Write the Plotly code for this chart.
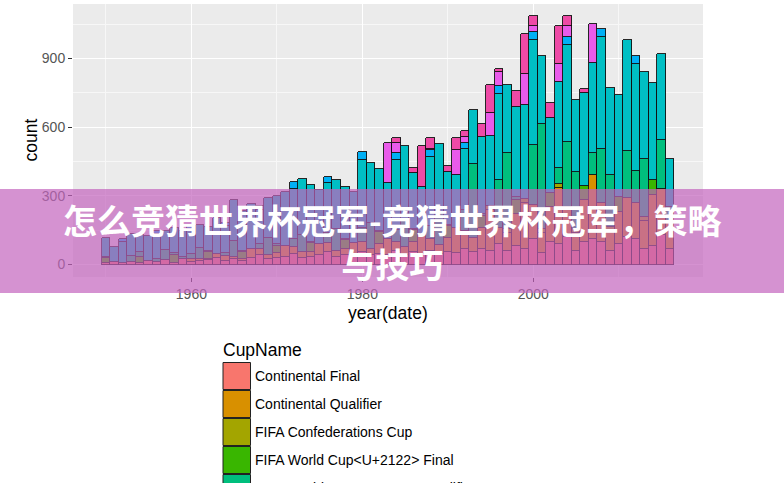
import plotly.graph_objects as go

# ---------------- data ----------------
years = list(range(1950, 2017))

cup_names = [
    "Continental Final",
    "Continental Qualifier",
    "FIFA Confederations Cup",
    "FIFA World Cup&lt;U+2122&gt; Final",
    "FIFA World Cup&lt;U+2122&gt; Qualifier",
    "Friendly",
    "Olympic Football Tournament",
    "Olympic Football Tournament Qualifier",
    "Other A",
    "Other B",
]
cup_colors = ["#F8766D", "#D89000", "#A3A500", "#39B600", "#00BF7D",
              "#00BFC4", "#00B0F6", "#9590FF", "#E95BEA", "#EE4AA6"]

continental_final = [
    8, 10, 6, 10, 6, 16, 12, 22, 8, 24,
    10, 16, 18, 30, 16, 24, 14, 30, 40, 25,
    30, 35, 45, 30, 35, 40, 55, 35, 40, 35,
    55, 40, 45, 40, 60, 40, 55, 45, 60, 45,
    55, 50, 70, 55, 70, 60, 90, 60, 80, 70,
    110, 50, 100, 90, 120, 60, 100, 110, 100, 60,
    90, 120, 110, 70, 80, 130, 70]
continental_qualifier = [
    0, 0, 0, 0, 0, 0, 0, 0, 0, 0,
    14, 10, 6, 18, 22, 8, 10, 40, 30, 15,
    20, 45, 30, 25, 20, 50, 40, 25, 30, 60,
    45, 30, 45, 70, 40, 35, 45, 90, 50, 40,
    60, 110, 70, 60, 90, 180, 70, 80, 140, 200,
    150, 90, 150, 245, 130, 80, 180, 281, 170, 90,
    140, 170, 160, 120, 226, 200, 120]
confederations_cup = [
    0, 0, 0, 0, 0, 0, 0, 0, 0, 0,
    0, 0, 0, 0, 0, 0, 0, 0, 0, 0,
    0, 0, 0, 0, 0, 0, 0, 0, 0, 0,
    0, 0, 0, 0, 0, 0, 0, 0, 0, 0,
    0, 0, 8, 0, 0, 16, 0, 16, 0, 16,
    0, 16, 0, 16, 0, 16, 0, 0, 0, 16,
    0, 0, 0, 16, 0, 0, 0]
world_cup_final = [
    22, 0, 0, 0, 26, 0, 0, 0, 35, 0,
    0, 0, 32, 0, 0, 0, 32, 0, 0, 0,
    32, 0, 0, 0, 38, 0, 0, 0, 38, 0,
    0, 0, 52, 0, 0, 0, 52, 0, 0, 0,
    52, 0, 0, 0, 52, 0, 0, 0, 64, 0,
    0, 0, 64, 0, 0, 0, 64, 0, 0, 0,
    64, 0, 0, 0, 64, 0, 0]
world_cup_qualifier = [
    4, 0, 0, 28, 24, 0, 14, 40, 6, 10,
    22, 48, 4, 0, 12, 70, 4, 0, 20, 75,
    8, 0, 35, 75, 5, 0, 45, 95, 5, 0,
    60, 110, 5, 0, 50, 120, 5, 0, 60, 140,
    5, 0, 90, 324, 10, 0, 210, 330, 10, 0,
    262, 457, 0, 69, 286, 250, 0, 95, 233, 225,
    0, 206, 140, 255, 0, 213, 60]
friendly = [
    82, 67, 94, 94, 74, 108, 109, 83, 110, 114,
    109, 100, 104, 157, 118, 178, 175, 195, 150, 175,
    210, 238, 222, 246, 250, 235, 218, 215, 226, 220,
    299, 262, 269, 248, 309, 324, 244, 203, 298, 301,
    234, 231, 269, 235, 336, 305, 376, 297, 393, 410,
    459, 296, 328, 377, 421, 314, 406, 394, 490, 382,
    448, 485, 467, 379, 424, 377, 211]
olympic_final = [
    0, 0, 12, 0, 0, 0, 10, 0, 0, 0,
    12, 0, 0, 0, 12, 0, 0, 0, 15, 0,
    0, 0, 29, 0, 0, 0, 26, 0, 0, 0,
    34, 0, 0, 0, 29, 0, 0, 0, 32, 0,
    0, 0, 25, 0, 0, 0, 32, 0, 0, 0,
    33, 0, 0, 0, 36, 0, 0, 0, 36, 0,
    0, 0, 32, 0, 0, 0, 0]
olympic_qualifier = [0] * 67
other_a = [
    0, 0, 0, 0, 0, 0, 0, 0, 0, 0,
    0, 0, 0, 0, 0, 0, 0, 0, 0, 0,
    0, 0, 0, 0, 0, 0, 0, 0, 0, 0,
    0, 0, 0, 171, 44, 0, 0, 0, 7, 0,
    0, 109, 26, 0, 0, 103, 63, 0, 0, 137,
    29, 0, 0, 77, 50, 0, 0, 171, 0, 0,
    0, 0, 0, 0, 0, 0, 0]
other_b = [
    0, 0, 0, 0, 0, 0, 0, 0, 0, 0,
    0, 0, 0, 0, 0, 0, 0, 0, 0, 0,
    0, 0, 0, 0, 0, 0, 0, 0, 0, 0,
    0, 0, 0, 0, 19, 0, 19, 181, 46, 0,
    24, 51, 25, 0, 54, 119, 14, 0, 71, 174,
    41, 0, 65, 166, 41, 0, 18, 0, 0, 0,
    0, 0, 0, 0, 0, 0, 0]

series = [continental_final, continental_qualifier, confederations_cup,
          world_cup_final, world_cup_qualifier, friendly, olympic_final,
          olympic_qualifier, other_a, other_b]

y_ticks = [0, 300, 600, 900]
x_ticks = [1960, 1980, 2000]

banner_line1 = "怎么竞猜世界杯冠军-竞猜世界杯冠军，策略"
banner_line2 = "与技巧"

# ---------------- figure ----------------
W, H = 784, 483
PL, PR, PT, PB = 73, 703, 4, 277  # panel box in pixels


def px_x(p):
    return (p - PL) / (PR - PL)


def px_y(p):
    return (PB - p) / (PB - PT)


fig = go.Figure()
for name, color, vals in zip(cup_names, cup_colors, series):
    fig.add_trace(go.Bar(
        x=years,
        y=[v if v else None for v in vals],
        name=name,
        width=1,
        marker=dict(color=color, line=dict(color="#111111", width=0.9)),
        showlegend=False,
        hoverinfo="x+y+name",
    ))

font_main = "Liberation Sans, Arial, Helvetica, sans-serif"

fig.update_layout(
    barmode="stack",
    bargap=0,
    width=W, height=H,
    margin=dict(l=PL, r=W - PR, t=PT, b=H - PB, pad=0),
    paper_bgcolor="white",
    plot_bgcolor="#EBEBEB",
    font=dict(family=font_main),
    xaxis=dict(
        range=[1946.15, 2019.85],
        tickvals=x_ticks,
        ticks="outside", ticklen=4, tickwidth=1, tickcolor="#333333",
        tickfont=dict(size=14, color="#555555"),
        showgrid=True, gridcolor="white", gridwidth=1.2,
        zeroline=False, showline=False,
        minor=dict(tickvals=[1950, 1970, 1990, 2010], showgrid=True,
                   gridcolor="#F7F7F7", gridwidth=0.6, ticks=""),
    ),
    yaxis=dict(
        range=[-54.2, 1138.2],
        tickvals=y_ticks,
        ticks="outside", ticklen=4, tickwidth=1, tickcolor="#333333",
        tickfont=dict(size=14, color="#555555"),
        showgrid=True, gridcolor="white", gridwidth=1.2,
        zeroline=False, showline=False,
        minor=dict(tickvals=[150, 450, 750, 1050], showgrid=True,
                   gridcolor="#F7F7F7", gridwidth=0.6, ticks=""),
    ),
)

annotations = [
    dict(text="count", x=px_x(30), y=0.5, xref="paper", yref="paper",
         textangle=-90, showarrow=False, xanchor="center", yanchor="middle",
         font=dict(size=17.5, color="black", family=font_main)),
    dict(text="year(date)", x=0.5, y=px_y(313), xref="paper", yref="paper",
         showarrow=False, xanchor="center", yanchor="middle",
         font=dict(size=17.5, color="black", family=font_main)),
    dict(text="CupName", x=px_x(221), y=px_y(350), xref="paper", yref="paper",
         showarrow=False, xanchor="left", yanchor="middle",
         font=dict(size=17.5, color="black", family=font_main)),
]

shapes = []
# legend keys (first entries; the rest falls below the visible page)
for i, (name, color) in enumerate(zip(cup_names, cup_colors)):
    top = 362.5 + 28 * i
    if top > H + 10:
        break
    shapes.append(dict(type="rect", xref="paper", yref="paper",
                       x0=px_x(223), x1=px_x(250.5), y0=px_y(top + 27), y1=px_y(top),
                       fillcolor=color, line=dict(color="#222222", width=1)))
    annotations.append(dict(text=name, x=px_x(252.5), y=px_y(top + 13.5),
                            xref="paper", yref="paper", showarrow=False,
                            xanchor="left", yanchor="middle",
                            font=dict(size=14, color="black", family=font_main)))

# translucent banner over the middle of the picture
shapes.append(dict(type="rect", xref="paper", yref="paper", layer="above",
                   x0=px_x(-3), x1=px_x(W + 3), y0=px_y(293), y1=px_y(189),
                   fillcolor="rgba(195,100,190,0.70)", line=dict(width=0)))

annotations.append(dict(
    text="<b>" + banner_line1 + "<br>" + banner_line2 + "</b>",
    x=px_x(392), y=px_y(241.5), xref="paper", yref="paper",
    showarrow=False, xanchor="center", yanchor="middle", align="center",
    font=dict(size=34, color="white", family="Noto Sans CJK SC, sans-serif"),
))

fig.update_layout(shapes=shapes, annotations=annotations)

fig.write_html(
    "out.html",
    config={"displayModeBar": False},
    post_script="document.body.style.margin='0';document.body.style.overflow='hidden';",
)
